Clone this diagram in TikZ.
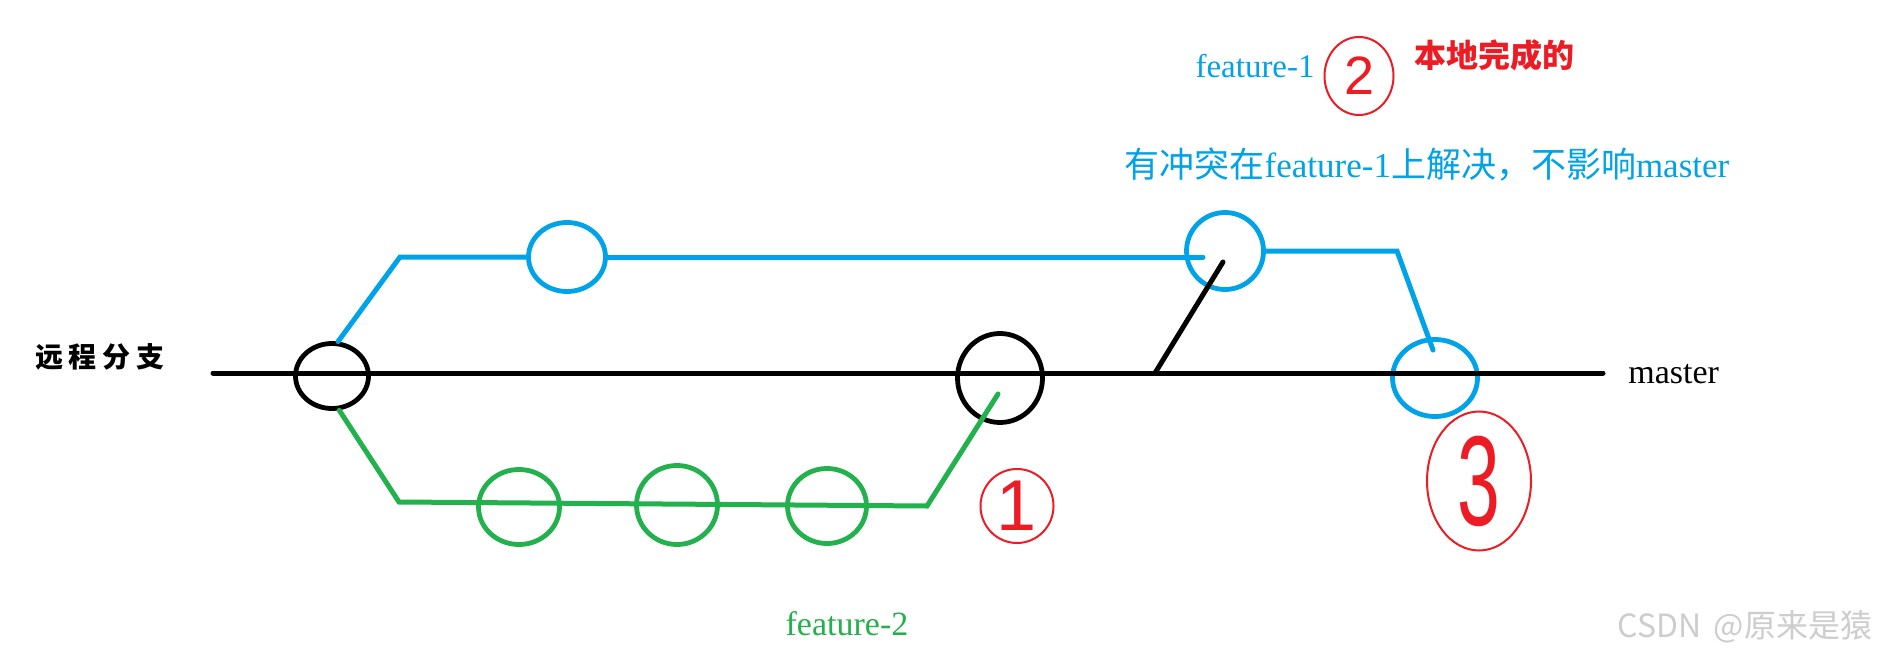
\documentclass[tikz,border=0pt]{standalone}
\usepackage{fontspec}
\usepackage{graphicx}
\setmainfont{Liberation Serif}
\newfontfamily\cjk{Noto Sans CJK SC}
\newfontfamily\hand{Liberation Sans}
\usetikzlibrary{positioning, shapes.geometric}

\definecolor{gitblue}{HTML}{00A2E8}
\definecolor{gitgreen}{HTML}{22B14C}
\definecolor{penred}{HTML}{ED1C24}
\definecolor{markgray}{HTML}{CDCDCD}
\newcommand{\sz}[1]{\fontsize{#1}{#1}\selectfont}

\begin{document}
\begin{tikzpicture}[x=0.5pt, y=-0.5pt,
    commit/.style={ellipse, draw=#1, line width=2.4pt, inner sep=0pt},
    branch/.style={draw=#1, line width=2.5pt, line cap=round},
    pen/.style={ellipse, draw=penred, line width=1pt, text=penred, inner sep=0pt, font=\hand},
    lbl/.style={inner sep=0pt, font=\sz{17pt}}
]
    \useasboundingbox[fill=white] (0,0) rectangle (1900,658);

    % Commits on master
    \node[commit=black, minimum width=36.5pt, minimum height=32.5pt] (m0) at (332,376) {};
    \node[commit=black, minimum width=42.5pt, minimum height=44.5pt] (m1) at (1000,378) {};

    % Commits of feature-1
    \node[commit=gitblue, minimum width=38.5pt, minimum height=34.5pt] (f1a) at (567,257) {};
    \node[commit=gitblue, minimum size=38.5pt] (f1b) at (1225,251) {};
    \node[commit=gitblue, minimum width=42.5pt, minimum height=38.5pt] (f1c) at (1435,378) {};

    % Commits of feature-2
    \node[commit=gitgreen, minimum width=40.5pt, minimum height=37.5pt] (f2a) at (519,507) {};
    \node[commit=gitgreen, minimum width=40.5pt, minimum height=39.5pt] (f2b) at (677,505) {};
    \node[commit=gitgreen, minimum width=39.5pt, minimum height=37.5pt] (f2c) at (827,506) {};

    % Bends
    \coordinate (mL) at (213,373);
    \coordinate (mR) at (1603,373);
    \coordinate (mg) at (1155,373);
    \coordinate (b1) at (400,257);
    \coordinate (b2) at (1397,251);
    \coordinate (g1) at (399,502);
    \coordinate (g2) at (927,506);

    % Branches
    \draw[branch=black] (mL) -- (mR);
    \draw[branch=black] (mg) -- ([xshift=-1pt, yshift=-5.5pt]f1b.center);
    \draw[branch=gitblue] (m0.80) -- (b1) -- (f1a.west);
    \draw[branch=gitblue] (f1a.east) -- ([xshift=-11pt]f1b.center |- f1a.east);
    \draw[branch=gitblue] (f1b.east) -- (b2) -- ([xshift=-1pt, yshift=14pt]f1c.center);
    \draw[branch=gitgreen] (m0.-78) -- (g1) -- (g2) -- ([xshift=-1pt, yshift=-8pt]m1.center);

    % Labels
    \node[inner sep=0pt, font=\cjk\bfseries\sz{14pt}] (remote) at (100,357) {远\hspace{3pt}程\hspace{3pt}分\hspace{3pt}支};
    \node[lbl, anchor=base west] (mlbl) at (1628,383) {master};
    \node[lbl, text=gitblue, font=\sz{17.5pt}] (conflict) at (1427,165) {{\cjk 有冲突在}feature-1{\cjk 上解决，不影响}master};
    \node[lbl, text=gitgreen] (f2lbl) at (847,624) {feature-2};

    % Hand-written steps
    \node[pen, minimum width=34.5pt, minimum height=39pt, font=\hand\sz{27pt}] (n2) at (1359,76) {2};
    \node[lbl, text=gitblue, font=\sz{16.5pt}, anchor=base east] (f1lbl) at (1315,78) {feature-1};
    \node[lbl, text=penred, font=\cjk\bfseries\sz{16pt}] (local) at (1494,55) {本地完成的};
    \node[pen, minimum width=36.5pt, minimum height=37pt, font=\hand\sz{36pt}] (n1) at (1017,506) {1};
    \node[pen, minimum width=52pt, minimum height=69.5pt, font=\hand\sz{64pt}] (n3) at (1479,481) {\scalebox{0.6}[1]{3}};

    % Watermark
    \node[inner sep=0pt, text=markgray, font=\cjk\sz{16pt}] (mark) at (1745,627) {CSDN\hspace{6pt}@原来是猿};
\end{tikzpicture}
\end{document}
